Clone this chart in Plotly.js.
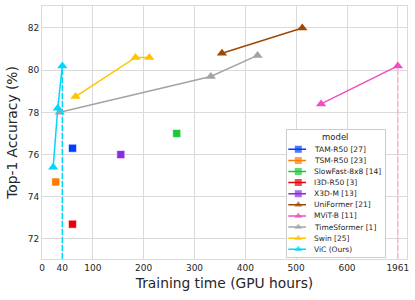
<!DOCTYPE html>
<html>
<head>
<meta charset="utf-8">
<script src="https://cdn.plot.ly/plotly-3.0.1.min.js"></script>
<style>html,body{margin:0;padding:0;background:#fff;}#chart{width:415px;height:300px;}</style>
</head>
<body>
<div id="chart"></div>
<script>
// ---------------- data ----------------
const models = ['TAM-R50 [27]', 'TSM-R50 [23]', 'SlowFast-8x8 [14]', 'I3D-R50 [3]', 'X3D-M [13]',
                'UniFormer [21]', 'MViT-B [11]', 'TimeSformer [1]', 'Swin [25]', 'ViC (Ours)'];
const symbols = ['square', 'square', 'square', 'square', 'square',
                 'triangle-up', 'triangle-up', 'triangle-up', 'triangle-up', 'triangle-up'];
const colors = ['#023eff', '#ff7c00', '#1ac938', '#e8000b', '#8b2be2',
                '#9f4800', '#f14cc1', '#a3a3a3', '#ffc400', '#00d7ff'];

// training time (GPU hours) and top-1 accuracy (%)
const tamHours = [60],            tamAcc = [76.3];
const tsmHours = [27],            tsmAcc = [74.7];
const slowfastHours = [265],      slowfastAcc = [77.0];
const i3dHours = [60],            i3dAcc = [72.7];
const x3dHours = [155],           x3dAcc = [76.0];
const uniformerHours = [354, 512],        uniformerAcc = [80.8, 82.0];
const mvitHours = [549, 1961],            mvitAcc = [78.4, 80.2];
const timesformerHours = [35, 332, 424],  timesformerAcc = [78.0, 79.7, 80.7];
const swinHours = [66, 184, 211],         swinAcc = [78.75, 80.6, 80.6];
const vicHours = [22, 31, 40],            vicAcc = [75.4, 78.2, 80.2];

// x axis ticks (axis is broken after 600: the 1961 h point sits in the 700 slot)
const xTickVals = [0, 40, 100, 200, 300, 400, 500, 600, 700];
const xTickText = ['0', '40', '100', '200', '300', '400', '500', '600', '1961'];
const yTickVals = [72, 74, 76, 78, 80, 82];

const BREAK_HOURS = 1961, BREAK_SLOT = 700;
const toAxis = h => h.map(v => (v === BREAK_HOURS ? BREAK_SLOT : v));

const seriesHours = [tamHours, tsmHours, slowfastHours, i3dHours, x3dHours,
                     uniformerHours, mvitHours, timesformerHours, swinHours, vicHours];
const seriesAcc = [tamAcc, tsmAcc, slowfastAcc, i3dAcc, x3dAcc,
                   uniformerAcc, mvitAcc, timesformerAcc, swinAcc, vicAcc];

// ---------------- layout constants ----------------
const X_RANGE = [0, 718];
const Y_RANGE = [71.05, 83.04];
const FONT = 'DejaVu Sans';
const TXT = '#262626';
const GRID = '#dadada';

const traces = [];

// reference verticals (dashed) for MViT-B and ViC top points
traces.push({
  x: toAxis([mvitHours[1], mvitHours[1]]), y: [Y_RANGE[0], mvitAcc[1]],
  mode: 'lines', line: {color: '#ffb6c8', width: 1.5, dash: '6px,2px'},
  showlegend: false, hoverinfo: 'skip', xaxis: 'x', yaxis: 'y'
});

models.forEach((m, i) => {
  const tri = symbols[i] === 'triangle-up';
  traces.push({
    x: toAxis(seriesHours[i]), y: seriesAcc[i], name: m,
    mode: 'lines+markers',
    line: {color: colors[i], width: 1.5},
    marker: {symbol: symbols[i], color: colors[i], size: tri ? 9 : 8,
             line: {width: tri ? 0 : 0.6, color: '#ffffff'}},
    showlegend: false, xaxis: 'x', yaxis: 'y'
  });
});

traces.push({
  x: [vicHours[2], vicHours[2]], y: [Y_RANGE[0], vicAcc[2]],
  mode: 'lines', line: {color: '#00d7ff', width: 1.5, dash: '6px,2px'},
  showlegend: false, hoverinfo: 'skip', xaxis: 'x', yaxis: 'y'
});

// ---------------- legend drawn in an inset subplot ----------------
const LEG_LINE = [1.6, 11.6, 19.3];   // line start, marker, line end (inset units)
const LEG_TEXT_X = 25;
const annotations = [];
models.forEach((m, i) => {
  traces.push({
    x: LEG_LINE, y: [i, i, i], mode: 'lines+markers',
    line: {color: colors[i], width: 1.5},
    marker: {symbol: symbols[i], color: colors[i], size: [0, 7, 0], line: {width: 0}},
    showlegend: false, hoverinfo: 'skip', xaxis: 'x2', yaxis: 'y2'
  });
  annotations.push({
    xref: 'x2', yref: 'y2', x: LEG_TEXT_X, y: i, text: m, showarrow: false,
    xanchor: 'left', yanchor: 'middle', font: {family: FONT, size: 7.5, color: TXT}
  });
});
annotations.push({
  xref: 'x2', yref: 'y2', x: 48.3, y: -1.1, text: 'model', showarrow: false,
  xanchor: 'center', yanchor: 'middle', font: {family: FONT, size: 8.5, color: TXT}
});

const layout = {
  width: 415, height: 300,
  margin: {l: 42, r: 8, t: 6, b: 41},
  paper_bgcolor: '#ffffff', plot_bgcolor: '#ffffff',
  font: {family: FONT, color: TXT},
  showlegend: false,
  xaxis: {
    domain: [0, 1], range: X_RANGE, tickvals: xTickVals, ticktext: xTickText,
    tickfont: {family: FONT, size: 9, color: TXT}, showgrid: true, gridcolor: GRID, gridwidth: 1,
    zeroline: false, showline: true, mirror: true, linecolor: GRID, linewidth: 1, ticks: '',
    title: {text: 'Training time (GPU hours)', font: {family: FONT, size: 13.8, color: TXT}, standoff: 6}
  },
  yaxis: {
    domain: [0, 1], range: Y_RANGE, tickvals: yTickVals,
    tickfont: {family: FONT, size: 9, color: TXT}, showgrid: true, gridcolor: GRID, gridwidth: 1,
    zeroline: false, showline: true, mirror: true, linecolor: GRID, linewidth: 1, ticks: '',
    title: {text: 'Top-1 Accuracy (%)', font: {family: FONT, size: 13.8, color: TXT}, standoff: 6}
  },
  xaxis2: {
    domain: [0.6704, 0.9397], range: [0, 98.3], anchor: 'y2',
    showgrid: false, zeroline: false, showticklabels: false, ticks: '',
    showline: true, mirror: true, linecolor: '#cccccc', linewidth: 1
  },
  yaxis2: {
    domain: [0.0079, 0.5099], range: [9.70, -1.74], anchor: 'x2',
    showgrid: false, zeroline: false, showticklabels: false, ticks: '',
    showline: true, mirror: true, linecolor: '#cccccc', linewidth: 1
  },
  annotations: annotations
};

Plotly.newPlot('chart', traces, layout, {staticPlot: true, displayModeBar: false});
</script>
</body>
</html>
